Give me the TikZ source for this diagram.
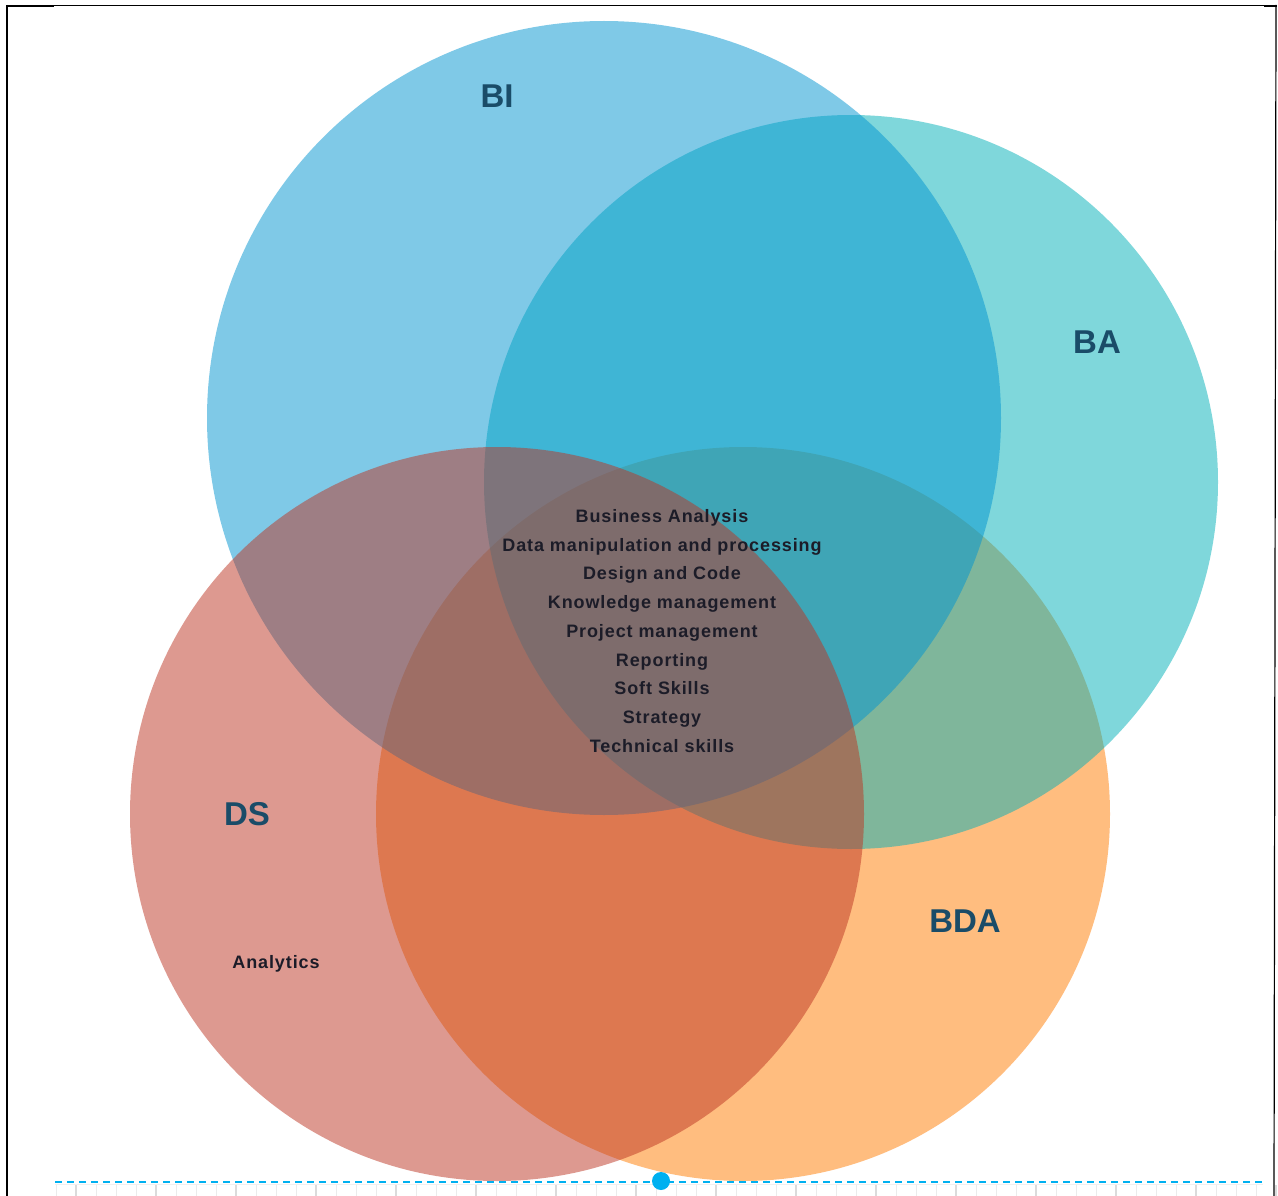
\documentclass[tikz,border=0pt]{standalone}
\usepackage{fontspec}
\setmainfont{Liberation Sans}
\newfontfamily\itemsfont[LetterSpace=5]{Liberation Sans}
\usetikzlibrary{positioning}

% Set colours (each circle is laid down at half opacity)
\definecolor{bicol}{RGB}{0,149,209}
\definecolor{bacol}{RGB}{1,177,184}
\definecolor{dscol}{RGB}{189,53,35}
\definecolor{bdacol}{RGB}{255,125,1}
\definecolor{labelcol}{RGB}{26,76,104}
\definecolor{itemcol}{RGB}{28,28,40}
\definecolor{guidecol}{RGB}{0,176,240}

\begin{document}
\begin{tikzpicture}[x=1pt,y=-1pt,
  venn/.style={circle, inner sep=0pt, draw=none, fill opacity=0.5},
  setlabel/.style={text=labelcol, font=\fontsize{33}{36}\selectfont\bfseries},
  items/.style={text=itemcol, align=center,
    font=\itemsfont\fontsize{18}{28.75}\selectfont\bfseries},
  tick/.style={draw=black!8, line width=1pt},
  majortick/.style={draw=black!14, line width=1.2pt}]

\useasboundingbox (0,0) rectangle (1278,1196);
\fill[white] (0,0) rectangle (1278,1196);

% Frame
\draw[black, line width=1pt] (6,5.5) -- (1276,5.5);
\draw[black, line width=2.5pt] (7,5) -- (7,1196);
\draw[black, line width=2.5pt] (6,6) -- (54,6);
\draw[black, line width=2.5pt] (1264,6) -- (1277,6);
\draw[black, line width=1.2pt] (1276,5) -- (1274,1196);

% The four sets, lowest first
\node[venn, fill=bdacol, minimum size=734pt] (bda) at (743,814) {};
\node[venn, fill=bacol,  minimum size=734pt] (ba)  at (851,482) {};
\node[venn, fill=bicol,  minimum size=794pt] (bi)  at (604,418) {};
\node[venn, fill=dscol,  minimum size=734pt] (ds)  at (497,814) {};

% Set names
\node[setlabel] (lbi)  at (497,96)  {BI};
\node[setlabel] (lba)  at (1097,342) {BA};
\node[setlabel] (lds)  at (247,814) {DS};
\node[setlabel] (lbda) at (965,921) {BDA};

% Shared skills in the common region
\node[items] (common) at (662,631) {Business Analysis\\
Data manipulation and processing\\
Design and Code\\
Knowledge management\\
Project management\\
Reporting\\
Soft Skills\\
Strategy\\
Technical skills};

\node[items] (analytics) at (276,964) {Analytics};

% Ruler along the bottom
\draw[black!6, line width=1pt] (55,1184.5) -- (1263,1184.5);
\foreach \k in {0,...,60}{
  \pgfmathsetmacro{\xx}{56+20*\k}
  \ifnum\k>0\relax\fi
  \draw[tick] (\xx,1185) -- (\xx,1196);
}
\foreach \k in {0,...,15}{
  \pgfmathsetmacro{\xx}{76+80*\k}
  \draw[majortick] (\xx,1185) -- (\xx,1196);
}

% Guide line with its handle
\coordinate (gl) at (55,1182);
\coordinate (gr) at (1262,1182);
\draw[guidecol, line width=2pt, dash pattern=on 7pt off 5pt] (gl) -- (gr);
\node[circle, fill=guidecol, inner sep=0pt, minimum size=18pt] (handle) at (661,1181) {};

\end{tikzpicture}
\end{document}
